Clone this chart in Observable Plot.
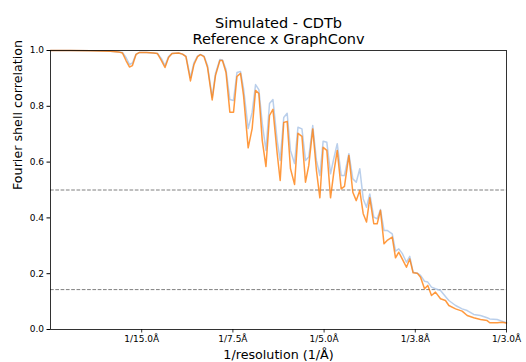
<!DOCTYPE html>
<html>
<head>
<meta charset="utf-8">
<script src="https://cdn.jsdelivr.net/npm/d3@7"></script>
<script src="https://cdn.jsdelivr.net/npm/@observablehq/plot@0.6"></script>
<style>
  html, body { margin: 0; padding: 0; background: white; }
  #chart { width: 526px; height: 362px; }
</style>
</head>
<body>
<div id="chart"></div>
<script>
// Spatial frequency (1/Å) of each vertex
const freq = [
  0, 0.0146, 0.0292, 0.0439, 0.0497, 0.0526, 0.0552, 0.0577, 0.0599, 0.0625,
  0.0651, 0.0702, 0.0753, 0.0782, 0.0811, 0.0837, 0.0863, 0.0888, 0.0936, 0.0965,
  0.0990, 0.1023, 0.1049, 0.1075, 0.1096, 0.1122, 0.1148, 0.1182, 0.1206, 0.1238,
  0.1257, 0.1283, 0.1311, 0.1338, 0.1363, 0.1389, 0.1411, 0.1445, 0.1474, 0.1499,
  0.1523, 0.1548, 0.1575, 0.1601, 0.1626, 0.1657, 0.1679, 0.1705, 0.1730, 0.1754,
  0.1784, 0.1809, 0.1838, 0.1864, 0.1888, 0.1917, 0.1944, 0.1969, 0.1993, 0.2020,
  0.2047, 0.2071, 0.2096, 0.2125, 0.2149, 0.2181, 0.2210, 0.2235, 0.2261, 0.2286,
  0.2310, 0.2334, 0.2363, 0.2388, 0.2412, 0.2438, 0.2461, 0.2498, 0.2522, 0.2546,
  0.2571, 0.2602, 0.2626, 0.2651, 0.2681, 0.2705, 0.2734, 0.2758, 0.2785, 0.2814,
  0.2851, 0.2887, 0.2912, 0.2961, 0.3009, 0.3046, 0.3094, 0.3143, 0.3192, 0.3211,
  0.3265, 0.3300, 0.3333
];
// FSC: Reference (light blue)
const fscReference = [
  1.000, 1.000, 0.999, 0.997, 0.995, 0.993, 0.975, 0.950, 0.955, 0.986,
  0.993, 0.993, 0.991, 0.989, 0.971, 0.946, 0.978, 0.989, 0.991, 0.987,
  0.980, 0.903, 0.957, 0.980, 0.986, 0.980, 0.946, 0.832, 0.918, 0.968,
  0.966, 0.932, 0.824, 0.821, 0.921, 0.925, 0.864, 0.720, 0.778, 0.878,
  0.860, 0.738, 0.642, 0.810, 0.824, 0.677, 0.606, 0.760, 0.775, 0.642,
  0.595, 0.725, 0.719, 0.606, 0.618, 0.731, 0.606, 0.552, 0.675, 0.671,
  0.558, 0.613, 0.666, 0.552, 0.552, 0.630, 0.540, 0.528, 0.576, 0.468,
  0.438, 0.486, 0.403, 0.397, 0.430, 0.355, 0.355, 0.343, 0.281, 0.289,
  0.273, 0.241, 0.262, 0.205, 0.202, 0.194, 0.173, 0.170, 0.152, 0.146,
  0.140, 0.118, 0.104, 0.086, 0.074, 0.068, 0.054, 0.050, 0.042, 0.038,
  0.036, 0.030, 0.024
];
// FSC: GraphConv (orange)
const fscGraphConv = [
  1.000, 1.000, 0.999, 0.997, 0.995, 0.991, 0.964, 0.941, 0.946, 0.986,
  0.993, 0.993, 0.991, 0.989, 0.964, 0.939, 0.975, 0.989, 0.991, 0.987,
  0.978, 0.891, 0.950, 0.978, 0.985, 0.978, 0.939, 0.823, 0.910, 0.964,
  0.964, 0.921, 0.779, 0.779, 0.907, 0.918, 0.839, 0.651, 0.720, 0.857,
  0.846, 0.677, 0.584, 0.767, 0.789, 0.631, 0.534, 0.742, 0.746, 0.577,
  0.520, 0.703, 0.692, 0.528, 0.588, 0.719, 0.570, 0.472, 0.653, 0.642,
  0.472, 0.563, 0.642, 0.504, 0.513, 0.624, 0.492, 0.462, 0.498, 0.415,
  0.385, 0.472, 0.379, 0.379, 0.427, 0.307, 0.319, 0.331, 0.257, 0.277,
  0.253, 0.223, 0.253, 0.203, 0.202, 0.187, 0.146, 0.158, 0.122, 0.134,
  0.110, 0.104, 0.086, 0.074, 0.066, 0.050, 0.042, 0.036, 0.032, 0.024,
  0.024, 0.026, 0.023
];
const xTickValues = [1/15, 1/7.5, 1/5, 1/3.75, 1/3];
const xTickLabels = ["1/15.0Å", "1/7.5Å", "1/5.0Å", "1/3.8Å", "1/3.0Å"];
const yTickValues = [0, 0.2, 0.4, 0.6, 0.8, 1.0];
const thresholds = [0.5, 0.143];
const titleLines = ["Simulated - CDTb", "Reference x GraphConv"];
const xLabel = "1/resolution (1/Å)";
const yLabel = "Fourier shell correlation";

const rowsRef = freq.map((f, i) => ({f, v: fscReference[i]}));
const rowsGC = freq.map((f, i) => ({f, v: fscGraphConv[i]}));
const xTicks = xTickValues.map((t, i) => ({t, label: xTickLabels[i]}));

const plot = Plot.plot({
  width: 526,
  height: 362,
  marginTop: 50,
  marginBottom: 33,
  marginLeft: 50,
  marginRight: 20,
  style: {fontFamily: "DejaVu Sans", fontSize: "9px", background: "white", color: "black", overflow: "visible"},
  x: {domain: [0, 1/3], axis: null},
  y: {domain: [0, 1]},
  marks: [
    Plot.ruleY(thresholds, {stroke: "#7f7f7f", strokeWidth: 1, strokeDasharray: "3.7,1.6"}),
    Plot.line(rowsRef, {x: "f", y: "v", stroke: "#aec7e8", strokeWidth: 1.5, strokeOpacity: 0.85}),
    Plot.line(rowsGC, {x: "f", y: "v", stroke: "#ff7f0e", strokeWidth: 1.5, strokeOpacity: 0.8}),
    Plot.frame({stroke: "black", strokeWidth: 0.8}),
    Plot.axisY({ticks: yTickValues, tickFormat: d3.format(".1f"), tickSize: 3.5, tickPadding: 3, label: null, fontSize: 9}),
    Plot.text([titleLines[0]], {frameAnchor: "top", dy: -22.5, lineAnchor: "bottom", fontSize: 14.5, fill: "black"}),
    Plot.text([titleLines[1]], {frameAnchor: "top", dy: -7, lineAnchor: "bottom", fontSize: 14.5, fill: "black"}),
    Plot.text([xLabel], {frameAnchor: "bottom", dy: 29.5, lineAnchor: "bottom", fontSize: 12.7, fill: "black"}),
    Plot.text([yLabel], {frameAnchor: "left", dx: -33, rotate: -90, lineAnchor: "middle", fontSize: 12.7, fill: "black"}),
    // x tick marks: short rules hanging below the frame, then their labels
    Plot.ruleX(xTicks, {x: "t", insetTop: 279, insetBottom: -3.5, stroke: "black", strokeWidth: 0.8}),
    Plot.text(xTicks, {x: "t", text: "label", frameAnchor: "bottom", dy: 6.5, lineAnchor: "top", fontSize: 9, fill: "black"})
  ]
});
document.getElementById("chart").appendChild(plot);
</script>
</body>
</html>
